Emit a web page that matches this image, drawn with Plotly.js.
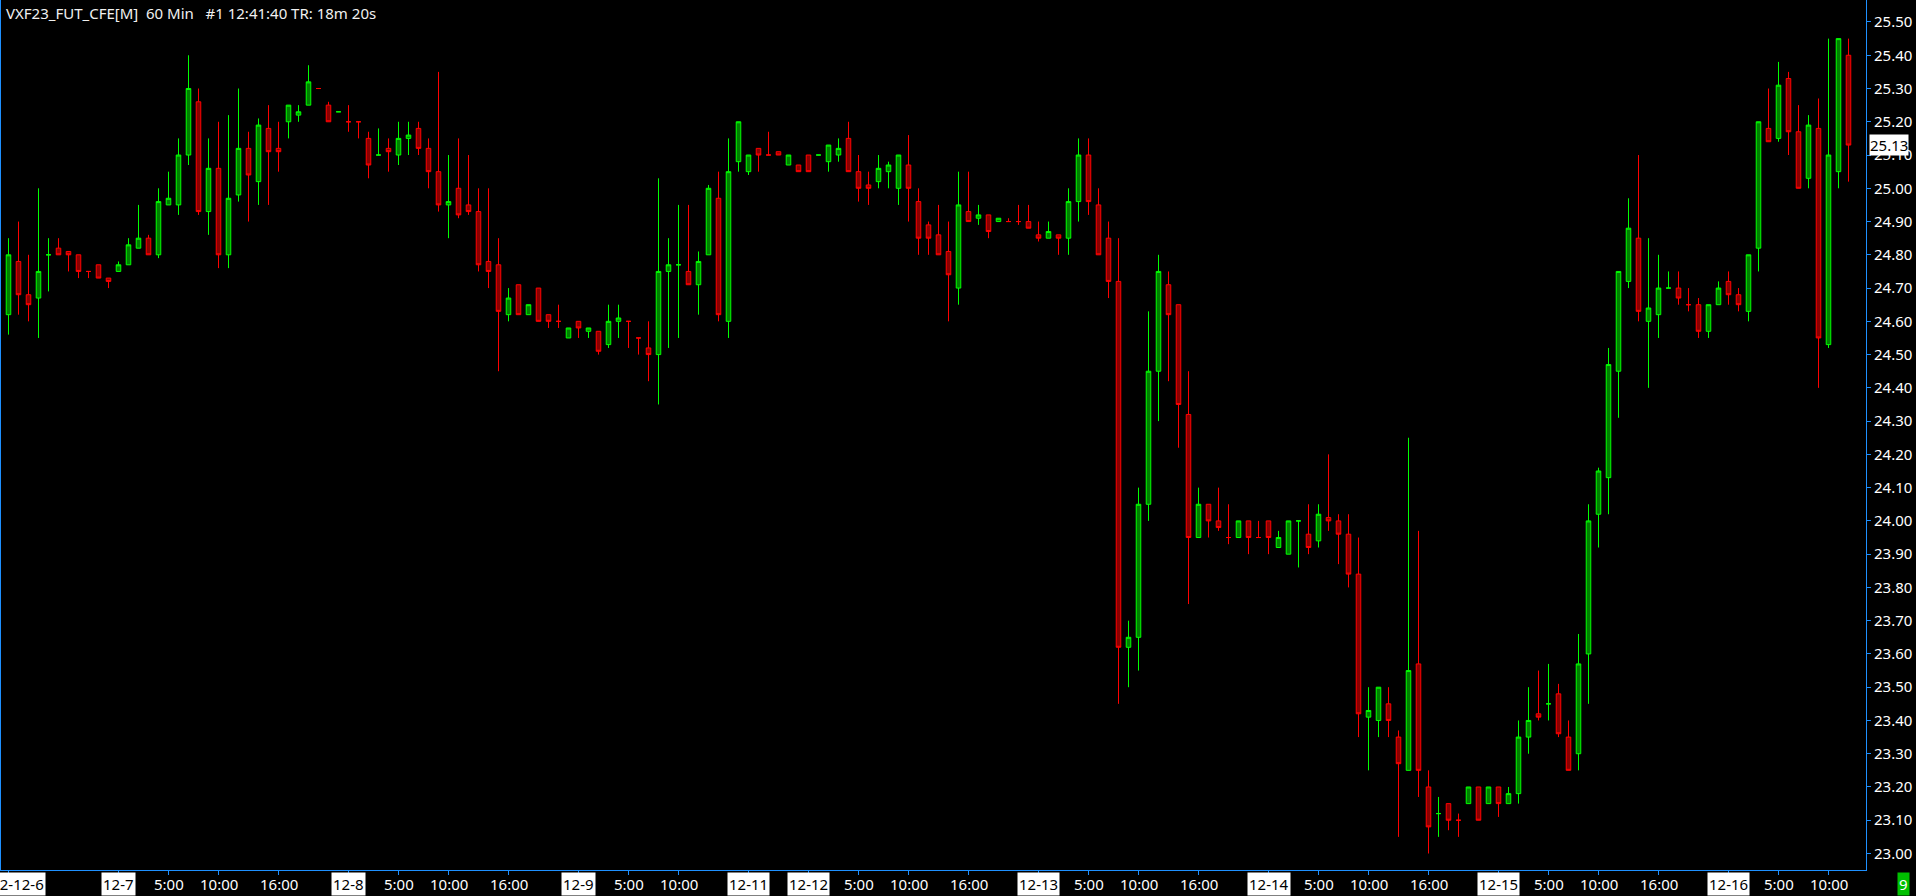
<!DOCTYPE html>
<html>
<head>
<meta charset="utf-8">
<script src="https://cdn.plot.ly/plotly-3.0.1.min.js"></script>
<style>
html, body { margin: 0; padding: 0; background: #000; overflow: hidden; }
#chart { width: 1916px; height: 896px; }
</style>
</head>
<body>
<div id="chart"></div>
<script>
// ---- data (hourly bars, 12-6 12:00 .. 12-16 12:00) ----
const openPrices = [
 24.62,24.78,24.68,24.67,24.80,24.82,24.81,24.80,24.75,24.77,24.73,24.75,24.77,24.82,24.85,24.80,24.95,24.95,25.10,25.26,
 24.93,25.06,24.80,24.98,25.12,25.02,25.18,25.12,25.20,25.22,25.25,25.30,25.25,25.23,25.20,25.20,25.15,25.10,25.12,25.10,
 25.15,25.18,25.12,25.05,24.95,25.00,24.95,24.93,24.78,24.77,24.62,24.71,24.62,24.70,24.62,24.60,24.55,24.60,24.57,24.57,
 24.53,24.60,24.60,24.55,24.52,24.50,24.75,24.77,24.75,24.71,24.80,24.97,24.60,25.08,25.05,25.12,25.10,25.11,25.07,25.07,
 25.10,25.10,25.08,25.10,25.15,25.05,25.01,25.02,25.05,25.00,25.07,24.96,24.89,24.86,24.81,24.70,24.93,24.91,24.92,24.90,
 24.90,24.90,24.90,24.86,24.85,24.86,24.85,24.96,25.10,24.95,24.85,24.72,23.62,23.65,24.05,24.45,24.71,24.65,24.32,23.95,
 24.05,24.00,23.95,23.95,24.00,23.95,24.00,23.92,23.90,24.00,23.96,23.94,24.01,24.00,23.96,23.84,23.41,23.40,23.45,23.35,
 23.25,23.57,23.20,23.12,23.15,23.10,23.15,23.20,23.15,23.20,23.15,23.18,23.35,23.42,23.45,23.48,23.35,23.30,23.60,24.02,
 24.13,24.45,24.72,24.85,24.60,24.62,24.70,24.70,24.65,24.65,24.57,24.65,24.72,24.68,24.63,24.82,25.18,25.15,25.33,25.17,
 25.03,25.18,24.53,25.05,25.40
];
const highPrices = [
 24.85,24.90,24.80,25.00,24.85,24.85,24.81,24.80,24.75,24.77,24.73,24.78,24.85,24.95,24.86,25.00,25.05,25.15,25.40,25.30,
 25.15,25.20,25.22,25.30,25.17,25.21,25.25,25.20,25.25,25.25,25.37,25.30,25.26,25.23,25.25,25.20,25.17,25.18,25.15,25.20,
 25.20,25.20,25.15,25.35,25.10,25.15,25.10,25.00,25.00,24.85,24.70,24.71,24.65,24.70,24.62,24.65,24.58,24.60,24.58,24.57,
 24.65,24.65,24.60,24.55,24.60,25.03,24.85,24.95,24.95,24.81,25.01,25.05,25.15,25.20,25.10,25.12,25.17,25.11,25.10,25.07,
 25.10,25.10,25.13,25.15,25.20,25.10,25.05,25.10,25.08,25.10,25.16,25.00,24.90,24.95,24.90,25.05,25.05,24.95,24.92,24.91,
 24.91,24.95,24.95,24.90,24.90,24.86,25.00,25.15,25.15,25.00,24.90,24.85,23.70,24.10,24.63,24.80,24.75,24.65,24.45,24.10,
 24.05,24.10,24.05,24.00,24.00,24.00,24.00,23.97,24.00,24.00,24.05,24.05,24.20,24.02,24.02,23.95,23.50,23.50,23.50,23.37,
 24.25,23.97,23.25,23.17,23.15,23.12,23.20,23.20,23.20,23.20,23.20,23.40,23.50,23.55,23.57,23.51,23.40,23.66,24.05,24.16,
 24.52,24.75,24.97,25.10,24.85,24.80,24.75,24.75,24.70,24.67,24.65,24.72,24.75,24.70,24.80,25.20,25.30,25.38,25.35,25.25,
 25.22,25.27,25.45,25.45,25.45
];
const lowPrices = [
 24.56,24.62,24.60,24.55,24.69,24.80,24.75,24.73,24.73,24.73,24.70,24.75,24.77,24.82,24.80,24.79,24.95,24.92,25.07,24.92,
 24.86,24.76,24.76,24.96,24.90,24.95,24.95,25.05,25.15,25.20,25.25,25.30,25.20,25.23,25.17,25.15,25.03,25.10,25.05,25.07,
 25.10,25.10,25.00,24.93,24.85,24.91,24.92,24.75,24.70,24.45,24.60,24.62,24.62,24.60,24.58,24.58,24.55,24.55,24.55,24.50,
 24.52,24.55,24.52,24.50,24.42,24.35,24.52,24.55,24.71,24.62,24.80,24.60,24.55,25.05,25.04,25.05,25.10,25.10,25.07,25.05,
 25.05,25.10,25.05,25.08,25.05,24.96,24.95,25.00,25.00,24.95,24.90,24.80,24.80,24.80,24.60,24.65,24.90,24.89,24.85,24.90,
 24.90,24.89,24.88,24.84,24.85,24.80,24.80,24.90,24.92,24.80,24.67,23.45,23.50,23.55,24.00,24.30,24.42,24.22,23.75,23.95,
 23.95,23.97,23.93,23.95,23.90,23.95,23.90,23.92,23.90,23.86,23.90,23.92,23.97,23.87,23.80,23.35,23.25,23.35,23.35,23.05,
 23.25,23.17,23.00,23.05,23.07,23.05,23.15,23.10,23.15,23.11,23.15,23.15,23.30,23.40,23.40,23.35,23.25,23.25,23.45,23.92,
 24.02,24.31,24.70,24.60,24.40,24.55,24.70,24.65,24.63,24.55,24.55,24.65,24.65,24.63,24.60,24.75,25.14,25.14,25.10,25.00,
 25.00,24.40,24.52,25.00,25.02
];
const closePrices = [
 24.80,24.68,24.65,24.75,24.80,24.80,24.80,24.75,24.75,24.73,24.72,24.77,24.83,24.85,24.80,24.96,24.97,25.10,25.30,24.93,
 25.06,24.80,24.97,25.12,25.04,25.19,25.11,25.11,25.25,25.23,25.32,25.30,25.20,25.23,25.20,25.20,25.07,25.10,25.11,25.15,
 25.16,25.12,25.05,24.95,24.96,24.92,24.93,24.77,24.75,24.63,24.67,24.62,24.65,24.60,24.60,24.60,24.58,24.58,24.58,24.51,
 24.60,24.61,24.60,24.55,24.50,24.75,24.77,24.77,24.71,24.78,25.00,24.62,25.05,25.20,25.10,25.10,25.10,25.10,25.10,25.05,
 25.05,25.10,25.13,25.12,25.05,25.00,25.00,25.06,25.07,25.10,25.00,24.85,24.85,24.80,24.74,24.95,24.90,24.92,24.87,24.91,
 24.90,24.90,24.88,24.85,24.87,24.85,24.96,25.10,24.96,24.80,24.72,23.62,23.65,24.05,24.45,24.75,24.62,24.35,23.95,24.05,
 24.00,23.98,23.95,24.00,23.95,23.95,23.95,23.95,24.00,24.00,23.92,24.02,24.00,23.96,23.84,23.42,23.43,23.50,23.40,23.27,
 23.55,23.25,23.08,23.12,23.10,23.10,23.20,23.10,23.20,23.15,23.18,23.35,23.40,23.41,23.45,23.36,23.25,23.57,24.00,24.15,
 24.47,24.75,24.88,24.63,24.64,24.70,24.70,24.67,24.65,24.57,24.65,24.70,24.68,24.65,24.80,25.20,25.14,25.31,25.17,25.00,
 25.19,24.55,25.10,25.45,25.13
];

// x-axis labels (bar index -> label)
const dateLabelIdx = [0, 11, 34, 57, 74, 80, 103, 126, 149, 172];
const dateLabels   = ['2022-12-6','12-7','12-8','12-9','12-11','12-12','12-13','12-14','12-15','12-16'];
const timeLabelIdx = [16, 21, 27, 39, 44, 50, 62, 67, 85, 90, 96, 108, 113, 119, 131, 136, 142, 154, 159, 165, 177, 182];
const timeLabels   = ['5:00','10:00','16:00','5:00','10:00','16:00','5:00','10:00','5:00','10:00','16:00',
                      '5:00','10:00','16:00','5:00','10:00','16:00','5:00','10:00','16:00','5:00','10:00'];

const headerText = 'VXF23_FUT_CFE[M]\u00a0\u00a060 Min\u00a0\u00a0\u00a0#1 12:41:40 TR: 18m 20s';
const lastPrice = 25.13;
const cornerText = '9';

// ---- drawing ----
const barIdx = openPrices.map((_, i) => i);
const BLUE = '#1E90FF';
const FONT = '"Noto Sans", "DejaVu Sans", sans-serif';

const trace = {
  type: 'candlestick',
  x: barIdx,
  open: openPrices, high: highPrices, low: lowPrices, close: closePrices,
  increasing: { line: { color: '#00FF00', width: 1 }, fillcolor: '#008000' },
  decreasing: { line: { color: '#FF0000', width: 1 }, fillcolor: '#8B0000' },
  whiskerwidth: 0,
  hoverinfo: 'skip',
  showlegend: false
};

const annotations = [];
annotations.push({
  xref: 'paper', yref: 'paper', x: 0, y: 1, xanchor: 'left', yanchor: 'top',
  xshift: 4, yshift: -1, showarrow: false, text: headerText,
  font: { family: FONT, size: 15, color: '#F0F0F0' }
});
dateLabelIdx.forEach((xi, k) => {
  annotations.push({
    xref: 'x', yref: 'paper', x: xi, y: 0, xanchor: 'center', yanchor: 'top',
    yshift: -2, showarrow: false, text: dateLabels[k],
    bgcolor: '#FFFFFF', borderpad: 1,
    font: { family: FONT, size: 15, color: '#000000' }
  });
});
timeLabelIdx.forEach((xi, k) => {
  annotations.push({
    xref: 'x', yref: 'paper', x: xi, y: 0, xanchor: 'center', yanchor: 'top',
    yshift: -2, showarrow: false, text: timeLabels[k], borderpad: 1,
    font: { family: FONT, size: 15, color: '#FFFFFF' }
  });
});
annotations.push({
  xref: 'paper', yref: 'y', x: 1, y: lastPrice, xanchor: 'left', yanchor: 'middle',
  xshift: 3, showarrow: false, text: lastPrice.toFixed(2),
  bgcolor: '#FFFFFF', borderpad: 0,
  font: { family: FONT, size: 15, color: '#000000' }
});
annotations.push({
  xref: 'paper', yref: 'paper', x: 1, y: 0, xanchor: 'left', yanchor: 'top',
  xshift: 31, yshift: -2, showarrow: false, text: cornerText,
  bgcolor: '#00C000', borderpad: 1,
  font: { family: FONT, size: 15, color: '#FFFFFF' }
});

const layout = {
  width: 1916, height: 896,
  margin: { l: 0, r: 50, t: 0, b: 26, pad: 0 },
  paper_bgcolor: '#000000', plot_bgcolor: '#000000',
  showlegend: false,
  boxgap: 0.35,
  xaxis: {
    range: [-0.85, 185.75], rangeslider: { visible: false },
    showgrid: false, zeroline: false,
    showline: true, linecolor: BLUE, linewidth: 1,
    tickmode: 'array', tickvals: dateLabelIdx.concat(timeLabelIdx),
    ticks: 'outside', ticklen: 4, tickcolor: BLUE, tickwidth: 1,
    showticklabels: false, fixedrange: true
  },
  yaxis: {
    side: 'right', range: [22.9504, 25.5661],
    showgrid: false, zeroline: false,
    showline: true, linecolor: BLUE, linewidth: 1,
    tick0: 23, dtick: 0.1, tickformat: '.2f',
    ticks: 'outside', ticklen: 4, tickcolor: BLUE, tickwidth: 1,
    tickfont: { family: FONT, size: 15, color: '#FFFFFF' },
    fixedrange: true
  },
  shapes: [{
    type: 'line', xref: 'paper', yref: 'paper', x0: 0, x1: 0, y0: 0, y1: 1,
    line: { color: BLUE, width: 2 }
  }],
  annotations: annotations
};

Plotly.newPlot('chart', [trace], layout, { staticPlot: true, displayModeBar: false });
</script>
</body>
</html>
